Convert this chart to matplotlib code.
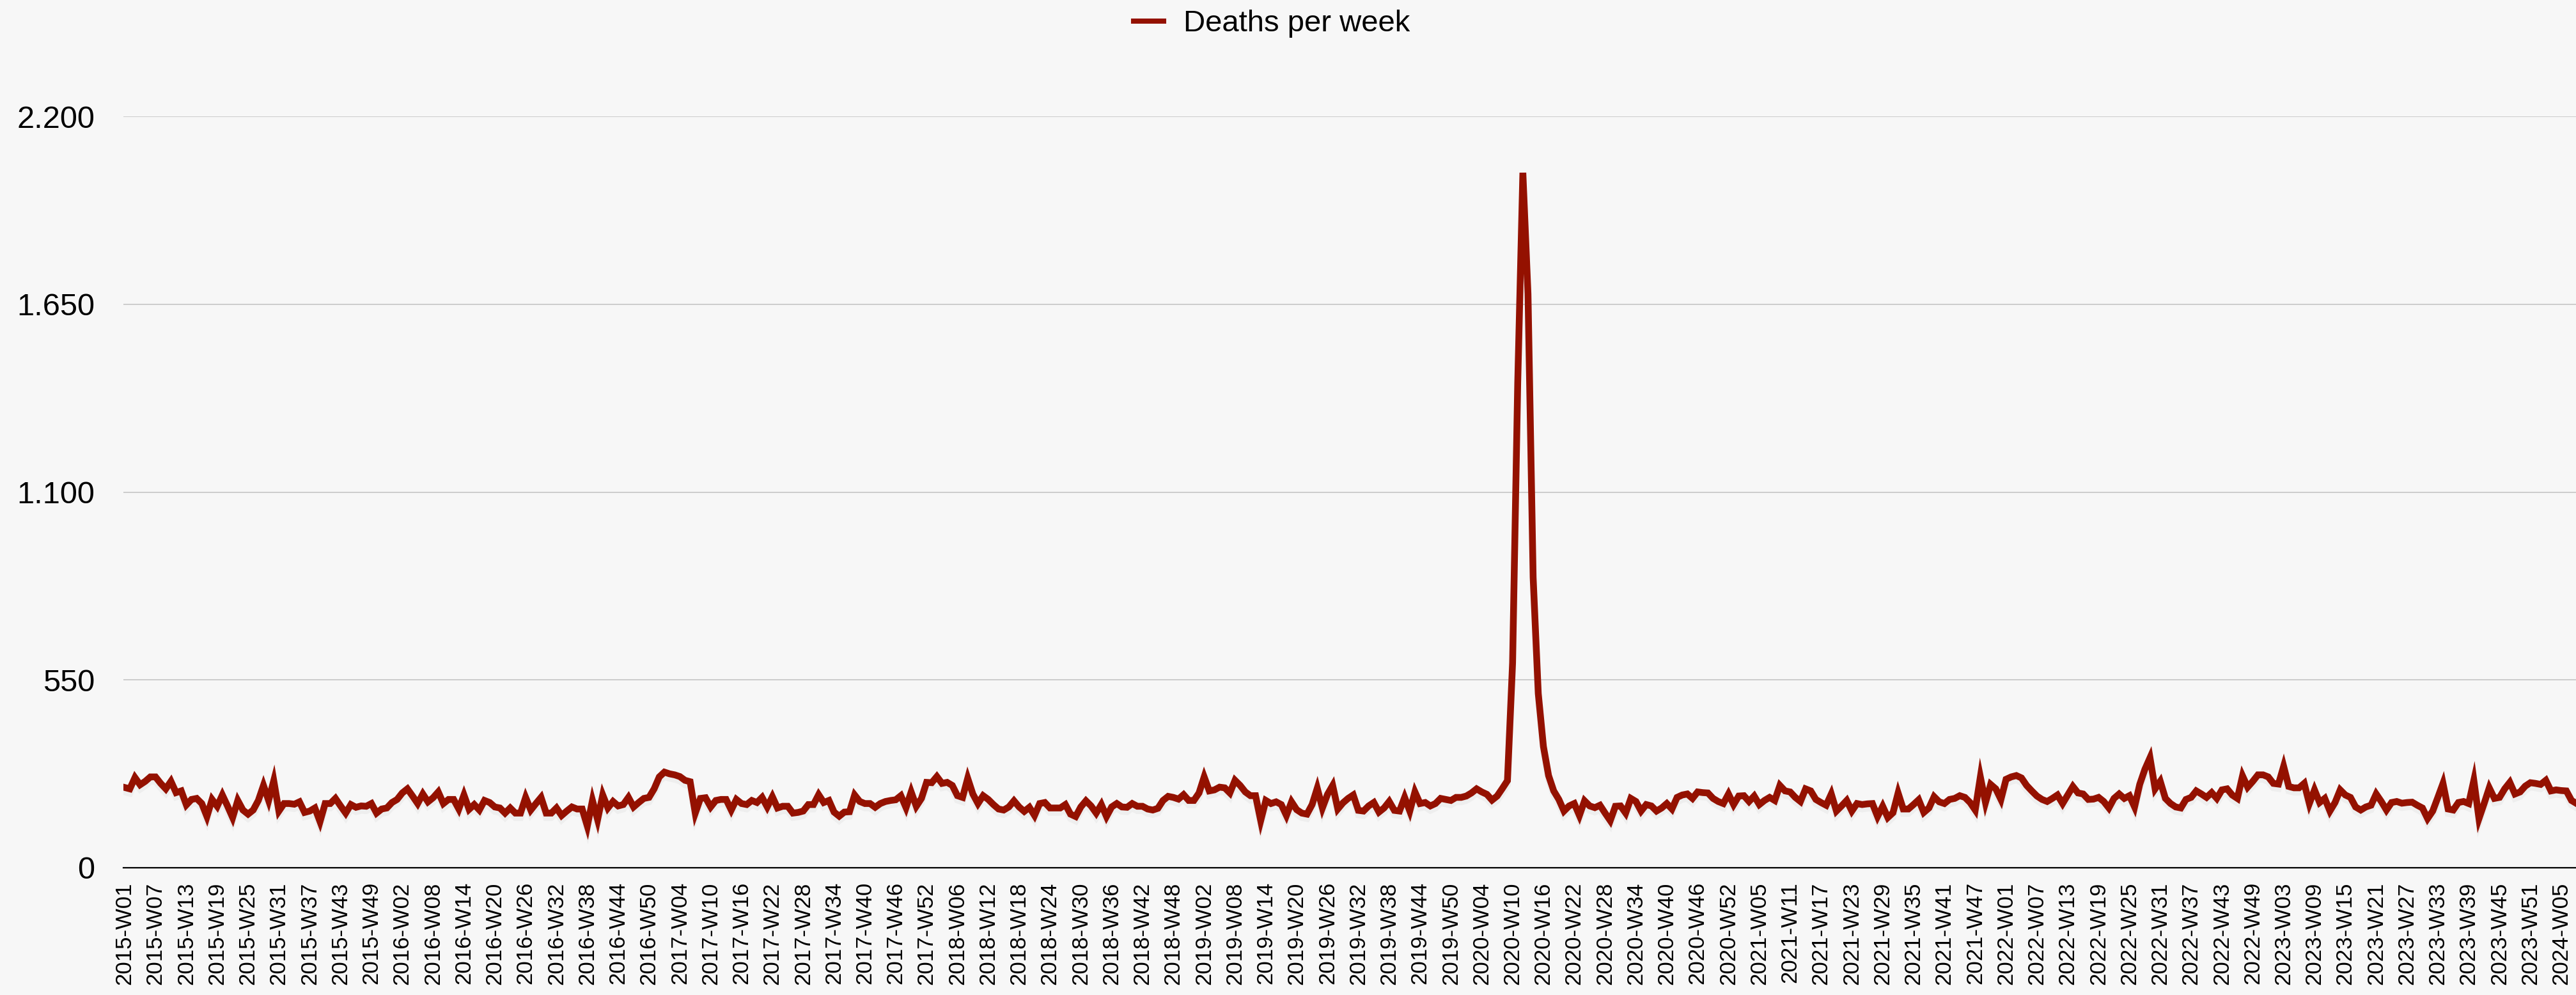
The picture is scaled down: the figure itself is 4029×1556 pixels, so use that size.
import matplotlib
matplotlib.use('Agg')
import matplotlib.pyplot as plt
import matplotlib.patheffects as pe
from matplotlib.lines import Line2D

# weekly deaths, one list per ISO year (2015 and 2020 have 53 weeks)
deaths_2015 = [235, 231, 264, 243, 253, 266, 266, 247, 231, 253, 220, 225, 184, 200, 203, 188, 150, 200,
               180, 213, 181, 147, 197, 169, 157, 169, 197, 241, 197, 255, 166, 188, 188, 186, 193, 162,
               166, 175, 135, 188, 188, 203, 181, 160, 185, 177, 181, 180, 188, 160, 172, 175, 191]
deaths_2016 = [200, 219, 231, 210, 188, 216, 193, 205, 222, 188, 200, 200, 172, 213, 171, 185, 169, 197,
               191, 178, 175, 160, 175, 160, 160, 206, 169, 188, 206, 160, 160, 175, 153, 166, 178, 172,
               172, 122, 197, 141, 213, 175, 194, 181, 185, 206, 178, 191, 203, 206, 231, 266]
deaths_2017 = [280, 275, 272, 267, 256, 252, 160, 203, 205, 178, 197, 200, 200, 169, 200, 188, 185, 197,
               191, 206, 178, 208, 175, 180, 180, 160, 162, 166, 185, 185, 214, 191, 197, 163, 151, 163,
               164, 213, 194, 188, 188, 177, 188, 194, 197, 199, 211, 176, 222, 180, 203, 250]
deaths_2018 = [249, 267, 247, 250, 241, 211, 206, 262, 216, 188, 211, 200, 185, 172, 169, 178, 196, 178,
               165, 177, 153, 188, 191, 175, 175, 175, 185, 157, 150, 178, 196, 181, 160, 185, 150, 178,
               188, 178, 177, 188, 180, 180, 172, 169, 174, 197, 209, 206, 201, 214, 197, 197]
deaths_2019 = [219, 266, 225, 228, 236, 234, 219, 256, 241, 222, 211, 211, 138, 197, 188, 193, 185, 153,
               193, 170, 160, 157, 185, 233, 175, 215, 241, 172, 190, 203, 213, 168, 166, 181, 191, 163,
               175, 194, 168, 166, 206, 166, 222, 188, 191, 181, 188, 203, 200, 197, 206, 206]
deaths_2020 = [210, 219, 231, 222, 215, 198, 210, 232, 255, 600, 1420, 2035, 1680, 850, 510, 355, 270, 225,
               200, 166, 181, 188, 153, 196, 181, 176, 183, 160, 138, 180, 181, 160, 203, 194, 166, 185,
               181, 166, 175, 188, 172, 206, 213, 216, 203, 222, 220, 219, 203, 194, 188, 216, 185]
deaths_2021 = [210, 211, 194, 210, 185, 197, 206, 197, 241, 225, 222, 206, 194, 231, 225, 200, 191, 183,
               216, 166, 181, 197, 166, 188, 185, 187, 188, 150, 180, 147, 161, 219, 172, 172, 185, 199,
               162, 175, 208, 193, 188, 200, 203, 211, 206, 191, 169, 266, 191, 244, 231, 200]
deaths_2022 = [259, 266, 270, 263, 241, 225, 210, 200, 194, 203, 213, 188, 213, 238, 219, 216, 200, 201,
               206, 194, 175, 203, 216, 203, 211, 178, 244, 288, 322, 231, 253, 203, 188, 178, 175, 200,
               206, 225, 216, 206, 220, 203, 228, 231, 213, 203, 269, 236, 253, 272, 272, 266]
deaths_2023 = [247, 245, 297, 238, 234, 234, 247, 188, 228, 191, 203, 166, 191, 228, 213, 206, 178, 169,
               178, 183, 216, 194, 169, 191, 194, 189, 191, 192, 183, 175, 144, 166, 206, 247, 172, 169,
               191, 194, 188, 256, 144, 188, 234, 203, 206, 231, 250, 216, 222, 239, 249, 247]
deaths_2024 = [244, 256, 225, 228, 226, 225, 197, 188]

by_year = {2015: deaths_2015, 2016: deaths_2016, 2017: deaths_2017, 2018: deaths_2018,
           2019: deaths_2019, 2020: deaths_2020, 2021: deaths_2021, 2022: deaths_2022,
           2023: deaths_2023, 2024: deaths_2024}

weeks = []
deaths = []
for year, vals in by_year.items():
    for w, v in enumerate(vals, start=1):
        weeks.append(f"{year}-W{w:02d}")
        deaths.append(v)

y_ticks = [0, 550, 1100, 1650, 2200]
y_labels = ["0", "550", "1.100", "1.650", "2.200"]

plt.rcParams['font.family'] = ['Liberation Sans', 'DejaVu Sans']

W, H = 4030, 1556
fig = plt.figure(figsize=(W / 100, H / 100), dpi=100)
fig.patch.set_facecolor('#f7f7f7')
ax = fig.add_axes([193 / W, 1 - 1357 / H, 1 - 193 / W, (1357 - 182) / H])
ax.set_facecolor('#f7f7f7')

x = list(range(len(deaths)))
ax.plot(x, deaths, color='#941100', lw=7.6, solid_joinstyle='miter', zorder=3,
        path_effects=[pe.SimpleLineShadow(offset=(0, -5), shadow_color='black', alpha=0.035),
                      pe.Normal()])

ax.set_xlim(-0.25, len(deaths) - 1)
ax.set_ylim(0, 2200)
ax.set_yticks(y_ticks)
ax.set_yticklabels(y_labels)
ax.set_xticks(x[::6])
ax.set_xticklabels(weeks[::6], rotation=90)

ax.set_axisbelow(True)
ax.yaxis.grid(True, color='#cccccc', lw=1.4)
for s in ['left', 'top', 'right']:
    ax.spines[s].set_visible(False)
ax.spines['bottom'].set_color('black')
ax.spines['bottom'].set_linewidth(1.6)
ax.tick_params(axis='both', length=0)
ax.tick_params(axis='y', labelsize=35, pad=32)
ax.tick_params(axis='x', labelsize=25, pad=16)

handle = Line2D([], [], color='#941100', lw=5.8)
fig.legend([handle], ['Deaths per week'], loc='center', bbox_to_anchor=(0.4936, 0.976),
           frameon=False, fontsize=34, handlelength=1.0, handletextpad=0.66)

fig.savefig('out.png', dpi=100, facecolor=fig.get_facecolor())
